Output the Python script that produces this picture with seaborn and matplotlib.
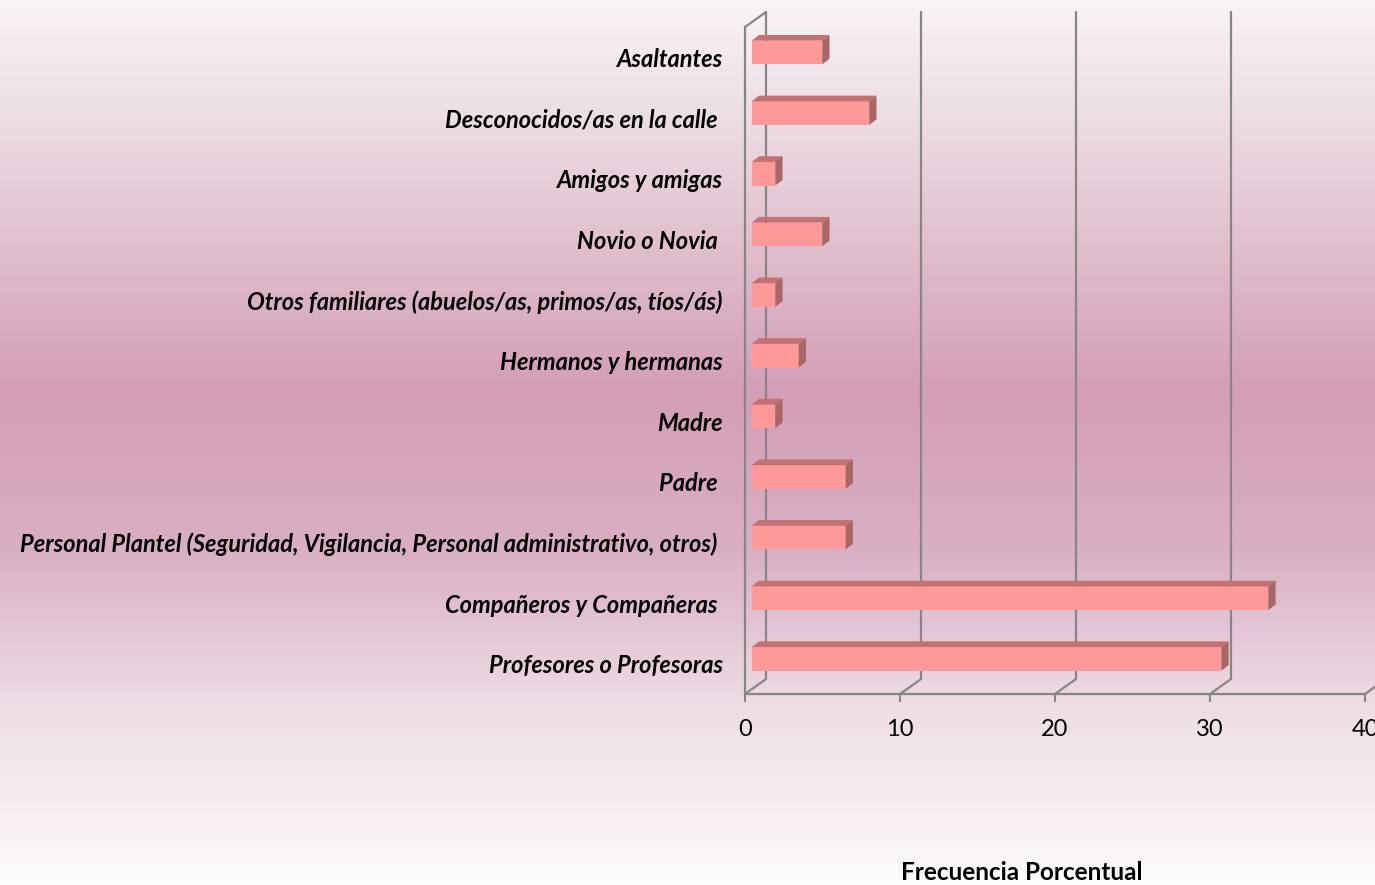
import numpy as np
import matplotlib.pyplot as plt
import seaborn as sns
from matplotlib.colors import LinearSegmentedColormap
from matplotlib.patches import Polygon

categorias = ['Asaltantes', 'Desconocidos/as en la calle ', 'Amigos y amigas', 'Novio o Novia ',
              'Otros familiares (abuelos/as, primos/as, tíos/ás)', 'Hermanos y hermanas', 'Madre',
              'Padre ', 'Personal Plantel (Seguridad, Vigilancia, Personal administrativo, otros) ',
              'Compañeros y Compañeras ', 'Profesores o Profesoras']
frecuencia = [4.55, 7.58, 1.52, 4.55, 1.52, 3.03, 1.52, 6.06, 6.06, 33.33, 30.30]
ticks = [0, 10, 20, 30, 40]

sns.set_theme(style='white')
plt.rcParams['font.family'] = ['Lato', 'DejaVu Sans']
plt.rcParams['text.color'] = 'black'

fig = plt.figure(figsize=(13.75, 8.85), dpi=100)

# background gradient
bg = fig.add_axes([0, 0, 1, 1], zorder=-10)
cmap = LinearSegmentedColormap.from_list('fondo', [(0, '#F8F3F6'), (0.12, '#EEDFE7'), (0.44, '#D39EB6'),
                                                    (0.62, '#D9AFC3'), (0.8, '#EEDDE6'), (1, '#FDFBFC')])
bg.imshow(np.linspace(0, 1, 256).reshape(-1, 1), aspect='auto', cmap=cmap, extent=[0, 1, 0, 1])
bg.axis('off')

ax = fig.add_axes([745/1375, 1 - 694/885, 620/1375, 667/885])
ax.set_facecolor('none')
sns.barplot(x=frecuencia, y=categorias, orient='h', color='#FF9999', saturation=1,
            width=0.39, linewidth=0, ax=ax, zorder=3)
ax.set_xlim(0, 40)
ax.set_ylim(10.5, -0.5)
for s in ax.spines.values():
    s.set_visible(False)

# pixel -> data conversion
PX_X = 40 / 620
PX_Y = 11 / 667
gris = '#868686'
bx, by = 6.7 * PX_X, -4.8 * PX_Y      # bar plane
ddx, ddy = 7.3 * PX_X, -5.7 * PX_Y    # bar depth
wx, wy = 21 * PX_X, -15 * PX_Y        # wall depth

for p in ax.patches:
    p.set_x(p.get_x() + bx)
    p.set_y(p.get_y() + by)
    x0, y0, w, h = p.get_x(), p.get_y(), p.get_width(), p.get_height()
    top = [(x0, y0), (x0 + w, y0), (x0 + w + ddx, y0 + ddy), (x0 + ddx, y0 + ddy)]
    side = [(x0 + w, y0), (x0 + w + ddx, y0 + ddy), (x0 + w + ddx, y0 + h + ddy), (x0 + w, y0 + h)]
    ax.add_patch(Polygon(top, closed=True, color='#C27272', lw=0, zorder=3))
    ax.add_patch(Polygon(side, closed=True, color='#A86666', lw=0, zorder=3))

# 3D walls and gridlines
kw = dict(color=gris, lw=1.6, clip_on=False)
for v in ticks[:-1]:
    ax.plot([v + wx, v + wx], [10.5 + wy, -0.5 + wy], zorder=1, **kw)
for v in ticks:
    ax.plot([v, v + wx], [10.5, 10.5 + wy], zorder=1, **kw)
ax.plot([0, 40], [10.5, 10.5], zorder=4, **kw)
ax.plot([0, 0], [10.5, -0.5], zorder=4, **kw)
ax.plot([0, wx], [-0.5, -0.5 + wy], zorder=4, **kw)

ax.set_xticks(ticks)
ax.tick_params(axis='x', bottom=True, length=6, width=1.5, color=gris, labelsize=17, pad=12, labelcolor='black')
ax.tick_params(axis='y', length=0, pad=16, labelsize=17, labelcolor='black')
for t in ax.get_yticklabels():
    t.set_fontweight('bold')
    t.set_fontstyle('italic')
ax.set_xlabel('')
ax.set_ylabel('')

fig.text(1022/1375, 1 - 872/885, 'Frecuencia Porcentual', ha='center', va='center',
         fontsize=17.5, fontweight='bold', color='black')

plt.savefig('out.png', dpi=100)
